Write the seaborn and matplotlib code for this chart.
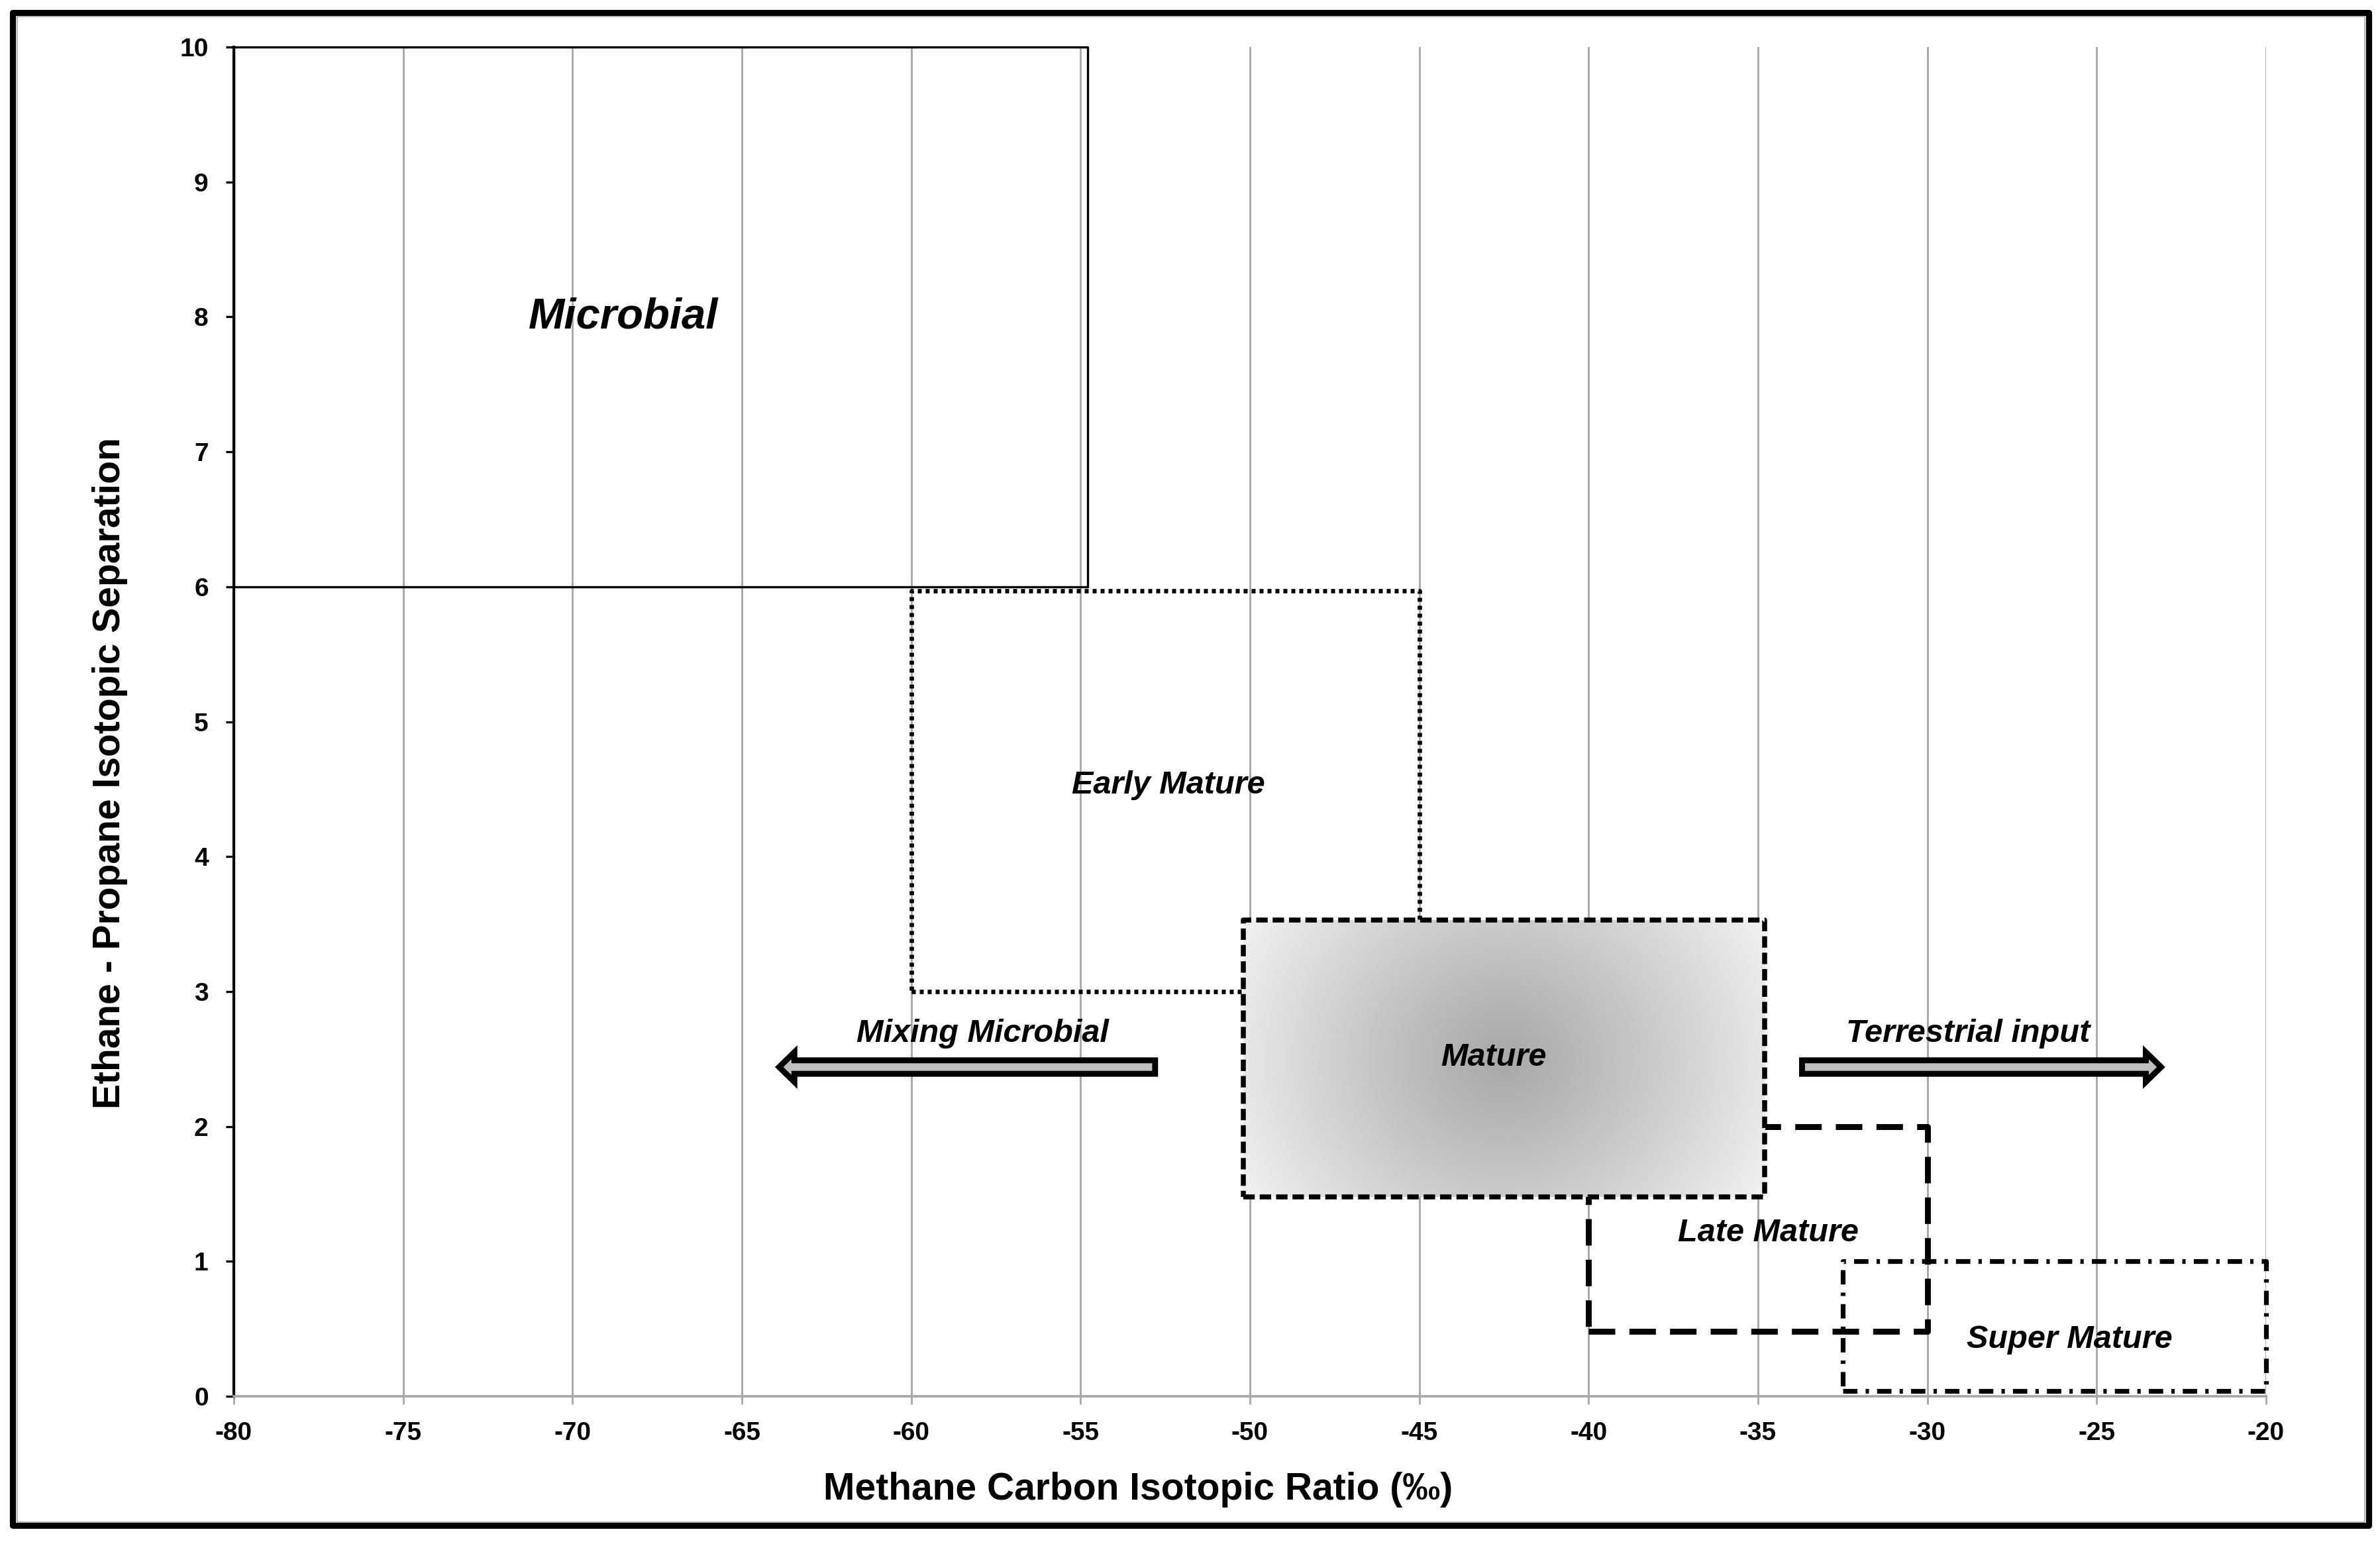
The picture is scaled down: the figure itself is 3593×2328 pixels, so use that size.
import numpy as np
import pandas as pd
import seaborn as sns
import matplotlib.pyplot as plt
from matplotlib.patches import FancyArrow, Rectangle

# Maturity regions (methane d13C vs ethane-propane separation)
regions = ["Microbial", "Early Mature", "Late Mature", "Super Mature", "Mature"]
x_min = [-80, -60, -40, -32.5, -50.2]
x_max = [-54.8, -45, -30, -20, -34.8]
y_min = [6.0, 3.0, 0.48, 0.04, 1.48]
y_max = [10.0, 5.97, 2.0, 1.0, 3.53]
label_x = [-68.5, -52.4, -34.7, -25.8, -42.8]
label_y = [8.0, 4.53, 1.21, 0.42, 2.51]

# Trend arrows
arrow_labels = ["Mixing Microbial", "Terrestrial input"]
arrow_start = [-52.8, -33.7]
arrow_end = [-63.9, -23.1]
arrow_y = [2.44, 2.44]
arrow_text_x = [-57.9, -28.8]
arrow_text_y = [2.69, 2.69]

x_ticks = list(range(-80, -15, 5))
y_ticks = list(range(0, 11))

box_styles = {
    "Microbial": dict(linestyle="-", lw=1.2),
    "Early Mature": dict(linestyle=(0, (0.9, 0.9)), lw=2.4),
    "Late Mature": dict(linestyle=(0, (4.5, 2.4)), lw=3.2),
    "Super Mature": dict(linestyle=(0, (3, 1.7, 0.7, 1.7)), lw=2.6),
    "Mature": dict(linestyle=(0, (2.3, 1.0)), lw=2.7),
}

sns.set_style("white")
plt.rcParams["font.family"] = ["Liberation Sans", "DejaVu Sans"]
plt.rcParams["axes.unicode_minus"] = False
for key in ["text.color", "axes.labelcolor", "xtick.labelcolor", "ytick.labelcolor"]:
    plt.rcParams[key] = "black"

fig = plt.figure(figsize=(3593 / 200, 2328 / 200), dpi=200)
ax = fig.add_axes([0.09825, 0.0945, 0.85388, 0.875])


def box_frame(i):
    xs = [x_min[i], x_max[i], x_max[i], x_min[i], x_min[i]]
    ys = [y_min[i], y_min[i], y_max[i], y_max[i], y_min[i]]
    return pd.DataFrame({"x": xs, "y": ys})


for i, name in enumerate(regions):
    z = 4 if name == "Mature" else 2
    if name == "Mature":
        # radial grey shading inside the mature window (roughly round in pixels)
        gx, gy = np.meshgrid(np.linspace(-1, 1, 400), np.linspace(-1, 1, 220))
        d = np.sqrt((gx * 393) ** 2 + (gy * 209 * 1.1) ** 2) / 445
        shade = 0.66 + 0.28 * np.clip(d, 0, 1) ** 1.1
        ax.imshow(shade, cmap="gray", vmin=0, vmax=1, aspect="auto",
                  extent=[x_min[i], x_max[i], y_min[i], y_max[i]],
                  interpolation="bilinear", zorder=3)
    sns.lineplot(data=box_frame(i), x="x", y="y", sort=False, estimator=None,
                 color="black", ax=ax, zorder=z, clip_on=False,
                 **box_styles[name])
    size = 23.5 if name == "Microbial" else 17.5
    ax.text(label_x[i], label_y[i], name, ha="center", va="center",
            fontsize=size, fontweight="bold", fontstyle="italic", zorder=6)

for j, lab in enumerate(arrow_labels):
    ax.add_patch(FancyArrow(arrow_start[j], arrow_y[j],
                            arrow_end[j] - arrow_start[j], 0,
                            width=0.1, head_width=0.22, head_length=0.45,
                            length_includes_head=True, fc="#c0c0c0",
                            ec="black", lw=3.2, joinstyle="miter", zorder=5))
    ax.text(arrow_text_x[j], arrow_text_y[j], lab, ha="center", va="center",
            fontsize=17.5, fontweight="bold", fontstyle="italic", zorder=6)

ax.set_xlim(-80, -20)
ax.set_ylim(0, 10)
ax.set_xticks(x_ticks)
ax.set_yticks(y_ticks)
ax.set_axisbelow(True)
ax.grid(axis="x", color="#a6a6a6", lw=1.0)
ax.grid(axis="y", visible=False)

for s in ["top", "right"]:
    ax.spines[s].set_visible(False)
ax.spines["left"].set_color("black")
ax.spines["left"].set_linewidth(1.5)
ax.spines["bottom"].set_color("#a6a6a6")
ax.spines["bottom"].set_linewidth(1.3)

ax.tick_params(axis="y", left=True, direction="out", length=4.3, width=1.2,
               color="black", pad=9.5, labelsize=14)
ax.tick_params(axis="x", bottom=True, direction="out", length=4.3, width=1.0,
               color="#a6a6a6", pad=9.5, labelsize=14)
for t in ax.get_xticklabels() + ax.get_yticklabels():
    t.set_fontweight("bold")

ax.set_xlabel("Methane Carbon Isotopic Ratio (‰)", fontsize=20.5, fontweight="bold")
ax.set_ylabel("Ethane - Propane Isotopic Separation", fontsize=20.5, fontweight="bold")
ax.xaxis.set_label_coords(0.445, -0.056)
ax.yaxis.set_label_coords(-0.052, 0.462)

# outer frame around the whole figure
fig.add_artist(Rectangle((0.0054, 0.0107), 0.9899, 0.9811, transform=fig.transFigure,
                         fill=False, ec="black", lw=3.3, joinstyle="round"))
fig.add_artist(Rectangle((0.0072, 0.0130), 0.9863, 0.9764, transform=fig.transFigure,
                         fill=False, ec="#a6a6a6", lw=0.6))

fig.savefig("out.png", dpi=200)
